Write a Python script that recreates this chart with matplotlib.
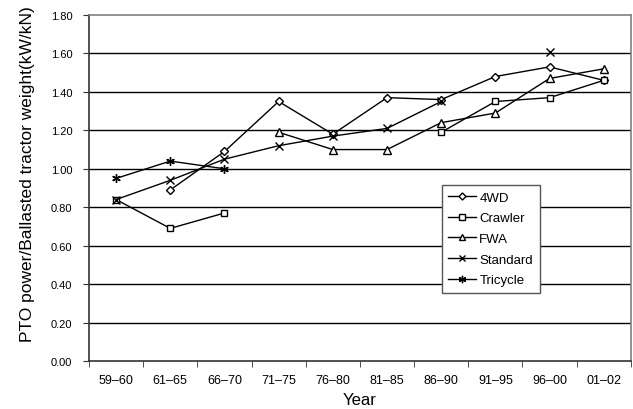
import numpy as np
import matplotlib
matplotlib.use("Agg")
import matplotlib.pyplot as plt

plt.rcParams['font.family'] = ['Liberation Sans', 'DejaVu Sans']

categories = ["59–60", "61–65", "66–70", "71–75", "76–80", "81–85", "86–90", "91–95", "96–00", "01–02"]
nan = np.nan
wd4 = [nan, 0.89, 1.09, 1.35, 1.18, 1.37, 1.36, 1.48, 1.53, 1.46]
crawler = [0.84, 0.69, 0.77, nan, nan, nan, 1.19, 1.35, 1.37, 1.46]
fwa = [nan, nan, nan, 1.19, 1.10, 1.10, 1.24, 1.29, 1.47, 1.52]
standard = [0.84, 0.94, 1.05, 1.12, 1.17, 1.21, 1.35, nan, 1.61, nan]
tricycle = [0.95, 1.04, 1.00, nan, nan, nan, nan, nan, nan, nan]
yticks = [0.0, 0.2, 0.4, 0.6, 0.8, 1.0, 1.2, 1.4, 1.6, 1.8]

fig = plt.figure(figsize=(6.33, 4.10), dpi=100)
ax = fig.add_axes([0.1406, 0.117, 0.856, 0.844])

x = np.arange(len(categories))
for yv in yticks[1:-1]:
    ax.axhline(yv, color='black', lw=1.0, zorder=1)

common = dict(color='black', lw=1.0, markerfacecolor='white',
              markeredgecolor='black', markeredgewidth=1.0, zorder=3)
ax.plot(x, wd4, marker='D', markersize=4.2, label='4WD', **common)
ax.plot(x, crawler, marker='s', markersize=4.6, label='Crawler', **common)
ax.plot(x, fwa, marker='^', markersize=5.2, label='FWA', **common)
ax.plot(x, standard, marker='x', markersize=5.2, label='Standard', **common)
ax.plot(x, tricycle, marker=(6, 2, 0), markersize=6.2, label='Tricycle', **common)

ax.set_xlim(-0.5, len(categories) - 0.5)
ax.set_ylim(0, 1.8)
ax.set_yticks(yticks)
ax.set_yticklabels([f"{v:.2f}" for v in yticks], fontsize=8)
ax.set_xticks(x)
ax.set_xticklabels(categories, fontsize=9)
ax.set_xticks(np.arange(-0.5, len(categories), 1.0), minor=True)
ax.tick_params(axis='x', which='major', length=0, pad=9)
ax.tick_params(axis='x', which='minor', length=4, direction='out', color='#333333')
ax.tick_params(axis='y', length=4, direction='out', color='#333333', pad=8)

for s in ['top', 'right']:
    ax.spines[s].set_color('#808080')
    ax.spines[s].set_linewidth(1.2)
for s in ['left', 'bottom']:
    ax.spines[s].set_color('#333333')
    ax.spines[s].set_linewidth(1.2)

ax.set_xlabel('Year', fontsize=12, labelpad=5)
ax.set_ylabel('PTO power/Ballasted tractor weight(kW/kN)', fontsize=12.5)
ax.yaxis.set_label_coords(-0.0996, 0.543)

leg = ax.legend(loc='upper left', bbox_to_anchor=(0.651, 0.509), fontsize=9.5,
                frameon=True, fancybox=False, framealpha=1, edgecolor='#555555',
                handlelength=2.1, handletextpad=0.25, borderpad=0.5, labelspacing=0.64,
                borderaxespad=0, markerscale=0.85)
leg.get_frame().set_linewidth(1.0)

fig.savefig('out.png', dpi=100)
